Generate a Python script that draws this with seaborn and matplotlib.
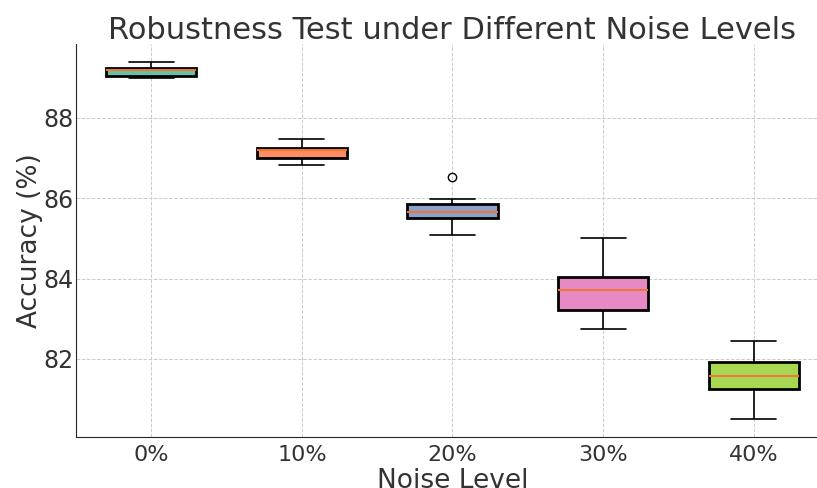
import matplotlib
matplotlib.use("Agg")
import matplotlib.pyplot as plt
import seaborn as sns
import pandas as pd

noise_levels = ["0%", "10%", "20%", "30%", "40%"]
acc_0 = [88.98, 89.03, 89.18, 89.23, 89.38]
acc_10 = [86.82, 86.99, 87.20, 87.24, 87.47]
acc_20 = [85.08, 85.30, 85.50, 85.60, 85.65, 85.75, 85.85, 85.98, 86.52]
acc_30 = [82.75, 83.22, 83.71, 84.04, 85.00]
acc_40 = [80.51, 81.25, 81.58, 81.93, 82.45]
colors = ["#66c2a5", "#fc8d62", "#8da0cb", "#e78ac3", "#a6d854"]

rows = []
for lvl, vals in zip(noise_levels, [acc_0, acc_10, acc_20, acc_30, acc_40]):
    for v in vals:
        rows.append({"Noise Level": lvl, "Accuracy": v})
df = pd.DataFrame(rows)

sns.set_style("white")
plt.rcParams['font.family'] = ['DejaVu Sans']
fig = plt.figure(figsize=(8.17, 4.88), dpi=100)
ax = fig.add_axes([0.093, 0.1045, 0.9217, 0.805])

sns.boxplot(data=df, x="Noise Level", y="Accuracy", hue="Noise Level",
            palette=colors, saturation=1, width=0.6, legend=False, ax=ax,
            boxprops=dict(edgecolor="black", linewidth=2),
            whiskerprops=dict(color="black", linewidth=1.2),
            capprops=dict(color="black", linewidth=1.2),
            medianprops=dict(color="#ee7733", linewidth=1.5),
            flierprops=dict(marker="o", markerfacecolor="none",
                            markeredgecolor="black", markersize=6))

ax.set_xlim(-0.5, 4.5)
ax.set_ylim(80.06, 89.83)
ax.set_yticks([82, 84, 86, 88])
ax.grid(True, linestyle="--", color="#cccccc", linewidth=0.7)
ax.set_axisbelow(True)
sns.despine(ax=ax)
ax.tick_params(axis="x", labelsize=16, length=3, pad=3, color="#333333")
ax.tick_params(axis="y", labelsize=17, length=3, pad=-1, color="#333333")
ax.set_title("Robustness Test under Different Noise Levels", fontsize=22, color="#333333", pad=4)
ax.set_xlabel("Noise Level", fontsize=19, color="#333333", labelpad=2)
ax.set_ylabel("Accuracy (%)", fontsize=19, color="#333333", labelpad=0)
for lbl in ax.get_xticklabels() + ax.get_yticklabels():
    lbl.set_color("#333333")

fig.savefig("out.png", dpi=100)
